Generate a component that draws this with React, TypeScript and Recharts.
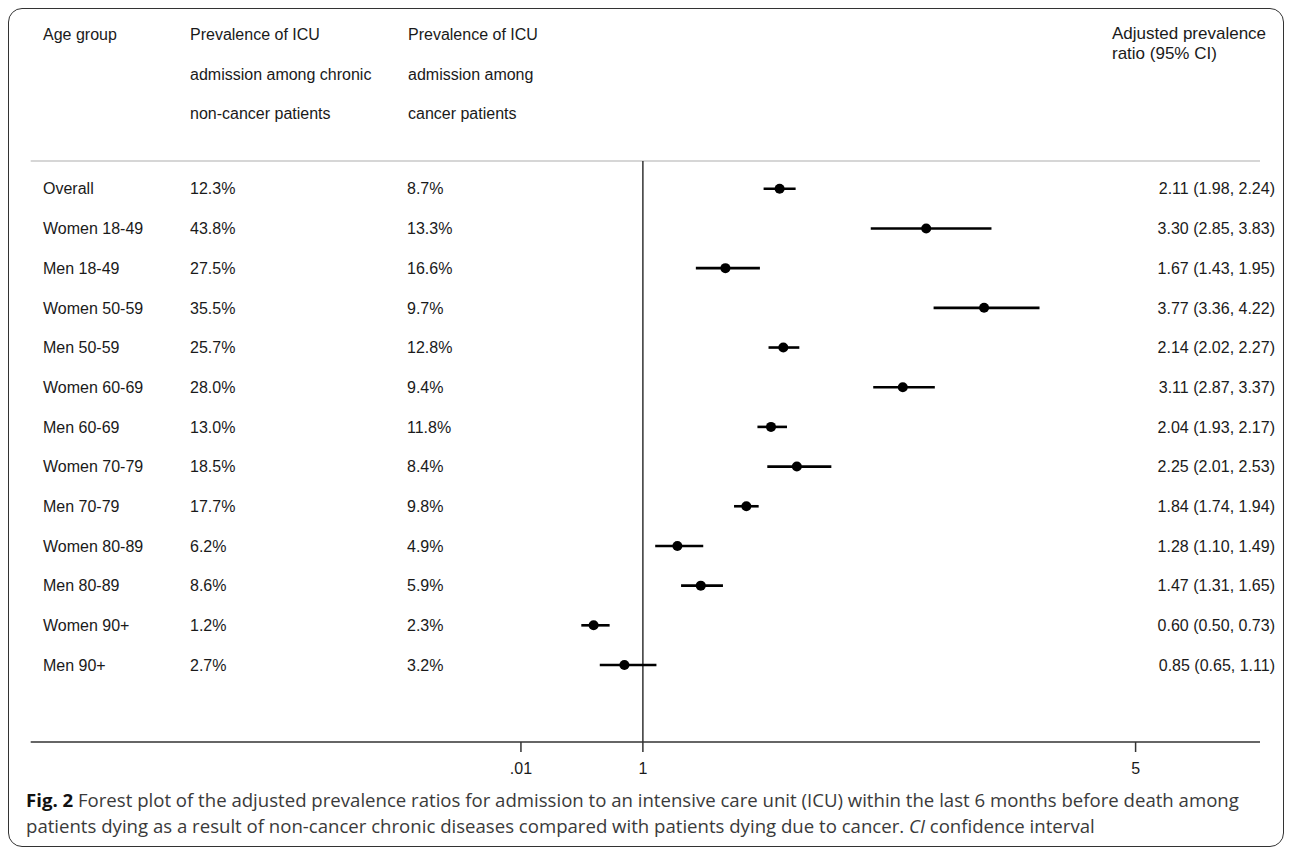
import { ComposedChart, Scatter, ErrorBar, XAxis, YAxis, ReferenceLine } from 'recharts'

const groups = [
  'Overall',
  'Women 18-49',
  'Men 18-49',
  'Women 50-59',
  'Men 50-59',
  'Women 60-69',
  'Men 60-69',
  'Women 70-79',
  'Men 70-79',
  'Women 80-89',
  'Men 80-89',
  'Women 90+',
  'Men 90+',
]
const chronicPct = [12.3, 43.8, 27.5, 35.5, 25.7, 28.0, 13.0, 18.5, 17.7, 6.2, 8.6, 1.2, 2.7]
const cancerPct = [8.7, 13.3, 16.6, 9.7, 12.8, 9.4, 11.8, 8.4, 9.8, 4.9, 5.9, 2.3, 3.2]
const ratio = [2.11, 3.3, 1.67, 3.77, 2.14, 3.11, 2.04, 2.25, 1.84, 1.28, 1.47, 0.6, 0.85]
const lower = [1.98, 2.85, 1.43, 3.36, 2.02, 2.87, 1.93, 2.01, 1.74, 1.1, 1.31, 0.5, 0.65]
const upper = [2.24, 3.83, 1.95, 4.22, 2.27, 3.37, 2.17, 2.53, 1.94, 1.49, 1.65, 0.73, 1.11]

const xTicks = [0.01, 1, 5]
const xTickLabels = ['.01', '1', '5']

const headAge = ['Age group']
const headChronic = ['Prevalence of ICU', 'admission among chronic', 'non-cancer patients']
const headCancer = ['Prevalence of ICU', 'admission among', 'cancer patients']
const headRatio = ['Adjusted prevalence', 'ratio (95% CI)']

const rows = groups.map((g, i) => ({
  row: i,
  est: ratio[i],
  err: [ratio[i] - lower[i], upper[i] - ratio[i]],
}))

const W = 1276
const H = 839
const FONT = '"Liberation Sans", Arial, Helvetica, sans-serif'
const CAP_FONT = '"Open Sans", "Noto Sans", sans-serif'
const INK = '#1a1a1a'
const cell = { fontFamily: FONT, fontSize: 16, fill: INK }

// dot plus the row's text columns, placed on the row's scaled y
function RowShape(p: any) {
  const i = p.payload.row as number
  const by = p.cy + 5.7
  return (
    <g>
      <text x={35} y={by} style={cell}>{groups[i]}</text>
      <text x={182} y={by} style={cell}>{chronicPct[i].toFixed(1)}%</text>
      <text x={399} y={by} style={cell}>{cancerPct[i].toFixed(1)}%</text>
      <text x={1267} y={by} textAnchor="end" style={cell}>
        {`${ratio[i].toFixed(2)} (${lower[i].toFixed(2)}, ${upper[i].toFixed(2)})`}
      </text>
      <circle cx={p.cx} cy={p.cy} r={5} fill="#000" />
    </g>
  )
}

export default function App() {
  return (
    <div style={{ position: 'relative', width: W, height: H }}>
      <ComposedChart
        width={W}
        height={H}
        data={rows}
        margin={{ top: 153, right: 24, bottom: 75, left: 22.7 }}
        style={{ position: 'absolute', left: 0, top: 0 }}
      >
        <XAxis
          type="number"
          dataKey="est"
          domain={[-3.97, 6.01]}
          ticks={xTicks}
          tickFormatter={(v: number) => xTickLabels[xTicks.indexOf(v)] ?? String(v)}
          height={30}
          axisLine={{ stroke: '#333', strokeWidth: 1.5 }}
          tickLine={{ stroke: '#333', strokeWidth: 1.5 }}
          tickSize={10}
          tickMargin={11}
          tick={{ fontFamily: FONT, fontSize: 16, fill: INK }}
        />
        <YAxis type="number" dataKey="row" domain={[-0.7, 13.94]} ticks={rows.map((r) => r.row)} reversed hide />
        <ReferenceLine y={-0.7} stroke="#c8c8c8" strokeWidth={1.5} ifOverflow="visible" />
        <ReferenceLine x={1} stroke="#333" strokeWidth={1.5} />
        <Scatter data={rows} shape={<RowShape />} isAnimationActive={false}>
          <ErrorBar dataKey="err" direction="x" width={0} stroke="#000" strokeWidth={2.6} isAnimationActive={false} />
        </Scatter>
      </ComposedChart>

      <svg width={W} height={H} style={{ position: 'absolute', left: 0, top: 0, pointerEvents: 'none' }}>
        {headAge.map((t, k) => (
          <text key={'a' + k} x={35} y={32} style={cell}>{t}</text>
        ))}
        {headChronic.map((t, k) => (
          <text key={'c' + k} x={182} y={32 + k * 39.5} style={cell}>{t}</text>
        ))}
        {headCancer.map((t, k) => (
          <text key={'k' + k} x={400} y={32 + k * 39.5} style={cell}>{t}</text>
        ))}
        {headRatio.map((t, k) => (
          <text key={'r' + k} x={1104} y={31 + k * 20} style={{ ...cell, fontSize: 17 }}>{t}</text>
        ))}
        <text x={18} y={799} style={{ fontFamily: CAP_FONT, fontSize: 18.6, fill: '#3a3a3a' }}>
          <tspan fontWeight="bold" fill="#111">Fig. 2</tspan>
          {' Forest plot of the adjusted prevalence ratios for admission to an intensive care unit (ICU) within the last 6 months before death among'}
        </text>
        <text x={18} y={825} style={{ fontFamily: CAP_FONT, fontSize: 18.6, fill: '#3a3a3a' }}>
          {'patients dying as a result of non-cancer chronic diseases compared with patients dying due to cancer. '}
          <tspan fontStyle="italic">CI</tspan>
          {' confidence interval'}
        </text>
      </svg>

      <div
        style={{
          position: 'absolute',
          left: 0,
          top: 0,
          width: W,
          height: H,
          boxSizing: 'border-box',
          border: '1.5px solid #333',
          borderRadius: 14,
          pointerEvents: 'none',
        }}
      />
    </div>
  )
}
